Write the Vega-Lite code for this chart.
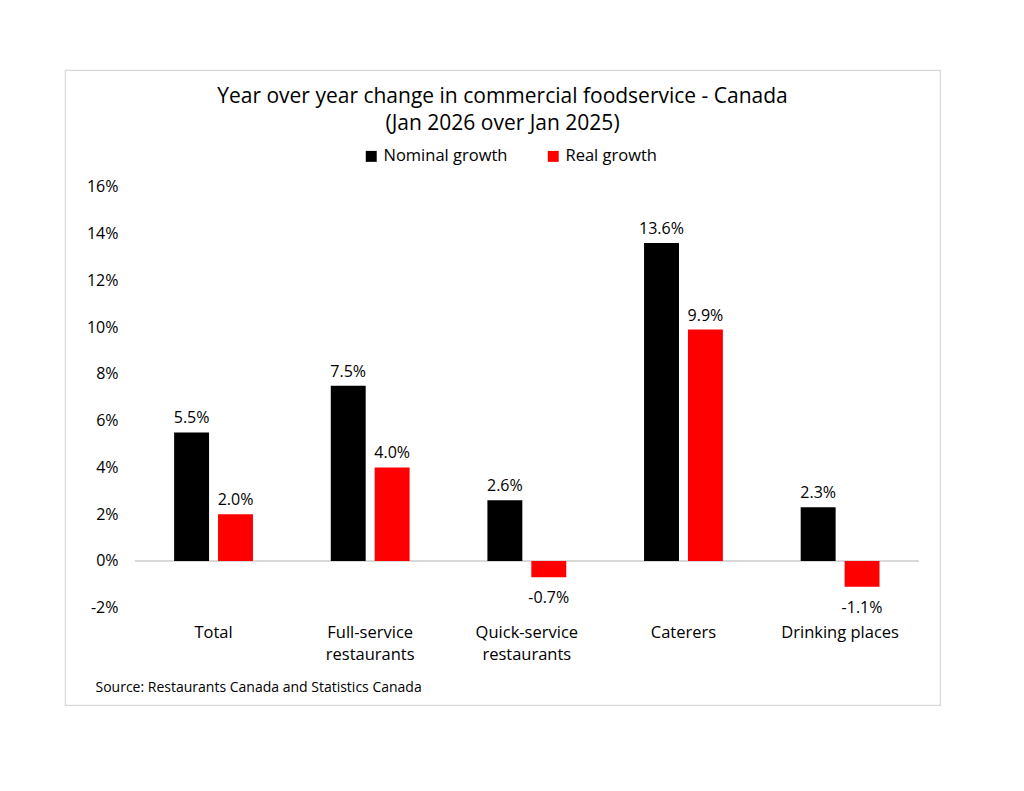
{
  "$schema": "https://vega.github.io/schema/vega-lite/v6.json",
  "autosize": {"type": "none"},
  "padding": {"left": 65, "top": 70, "right": 84, "bottom": 86},
  "width": 875,
  "height": 635,
  "background": "white",
  "config": {
    "view": {"stroke": "#d9d9d9", "strokeWidth": 1.2},
    "font": "Open Sans",
    "locale": {"number": {"decimal": ".", "thousands": ",", "grouping": [3], "currency": ["$", ""], "minus": "-"}}
  },
  "title": {
    "text": ["Year over year change in commercial foodservice - Canada", "(Jan 2026 over Jan 2025)"],
    "fontSize": 21, "fontWeight": "normal", "color": "black", "anchor": "middle", "frame": "group",
    "offset": -63.5, "lineHeight": 26.5, "baseline": "top"
  },
  "data": {"values": [
    {"category": "Total", "series": "Nominal growth", "value": 0.055},
    {"category": "Total", "series": "Real growth", "value": 0.020},
    {"category": "Full-service restaurants", "series": "Nominal growth", "value": 0.075},
    {"category": "Full-service restaurants", "series": "Real growth", "value": 0.040},
    {"category": "Quick-service restaurants", "series": "Nominal growth", "value": 0.026},
    {"category": "Quick-service restaurants", "series": "Real growth", "value": -0.007},
    {"category": "Caterers", "series": "Nominal growth", "value": 0.136},
    {"category": "Caterers", "series": "Real growth", "value": 0.099},
    {"category": "Drinking places", "series": "Nominal growth", "value": 0.023},
    {"category": "Drinking places", "series": "Real growth", "value": -0.011}
  ]},
  "layer": [
    {
      "mark": {"type": "rule", "color": "#d9d9d9", "strokeWidth": 1.5},
      "encoding": {
        "y": {"datum": 0, "type": "quantitative", "scale": {"domain": [-0.0616, 0.21], "nice": false, "zero": false}},
        "x": {"datum": "Total", "type": "nominal", "bandPosition": 0},
        "x2": {"datum": "Drinking places", "bandPosition": 1}
      }
    },
    {
      "mark": {"type": "bar"},
      "encoding": {
        "x": {
          "field": "category", "type": "nominal",
          "scale": {"domain": ["Total", "Full-service restaurants", "Quick-service restaurants", "Caterers", "Drinking places"], "paddingInner": 0, "paddingOuter": 0.293, "align": 0.765},
          "axis": {
            "title": "Source: Restaurants Canada and Statistics Canada",
            "titleFontSize": 14, "titleFontWeight": "normal", "titleAnchor": "start", "titleAlign": "left",
            "titleX": 30, "titleY": 55, "titleBaseline": "middle", "titleColor": "black",
            "domain": false, "ticks": false, "tickSize": 0, "labelFontSize": 16.5, "labelColor": "black",
            "labelPadding": 0, "offset": -73, "labelAngle": 0, "labelAlign": "center", "labelLineHeight": 22, "labelLimit": 0,
            "labelExpr": "datum.label == 'Full-service restaurants' ? ['Full-service', 'restaurants'] : datum.label == 'Quick-service restaurants' ? ['Quick-service', 'restaurants'] : datum.label"
          }
        },
        "xOffset": {"field": "series", "type": "nominal", "sort": ["Nominal growth", "Real growth"], "scale": {"paddingInner": 0.2045, "paddingOuter": 0.886}},
        "y": {
          "field": "value", "type": "quantitative",
          "scale": {"domain": [-0.0616, 0.21], "nice": false, "zero": false},
          "axis": {"values": [-0.02, 0, 0.02, 0.04, 0.06, 0.08, 0.1, 0.12, 0.14, 0.16], "format": ".0%", "title": null,
                   "domain": false, "ticks": false, "tickSize": 0, "grid": false, "labelFontSize": 16, "labelColor": "black",
                   "labelPadding": 0, "offset": -53}
        },
        "color": {
          "field": "series", "type": "nominal",
          "scale": {"domain": ["Nominal growth", "Real growth"], "range": ["#000000", "#ff0000"]},
          "legend": {"title": null, "orient": "none", "legendX": 298, "legendY": 78, "direction": "horizontal",
                     "symbolType": "square", "symbolSize": 120, "labelFontSize": 16.5, "labelColor": "black",
                     "columnPadding": 37, "symbolStrokeWidth": 0, "labelOffset": 4}
        }
      }
    },
    {
      "transform": [{"filter": "datum.value >= 0"}],
      "mark": {"type": "text", "baseline": "bottom", "dy": -6, "fontSize": 16, "color": "black"},
      "encoding": {
        "x": {"field": "category", "type": "nominal"},
        "xOffset": {"field": "series", "type": "nominal", "sort": ["Nominal growth", "Real growth"]},
        "y": {"field": "value", "type": "quantitative"},
        "text": {"field": "value", "type": "quantitative", "format": ".1%"}
      }
    },
    {
      "transform": [{"filter": "datum.value < 0"}],
      "mark": {"type": "text", "baseline": "top", "dy": 13, "fontSize": 16, "color": "black"},
      "encoding": {
        "x": {"field": "category", "type": "nominal"},
        "xOffset": {"field": "series", "type": "nominal", "sort": ["Nominal growth", "Real growth"]},
        "y": {"field": "value", "type": "quantitative"},
        "text": {"field": "value", "type": "quantitative", "format": ".1%"}
      }
    }
  ]
}
